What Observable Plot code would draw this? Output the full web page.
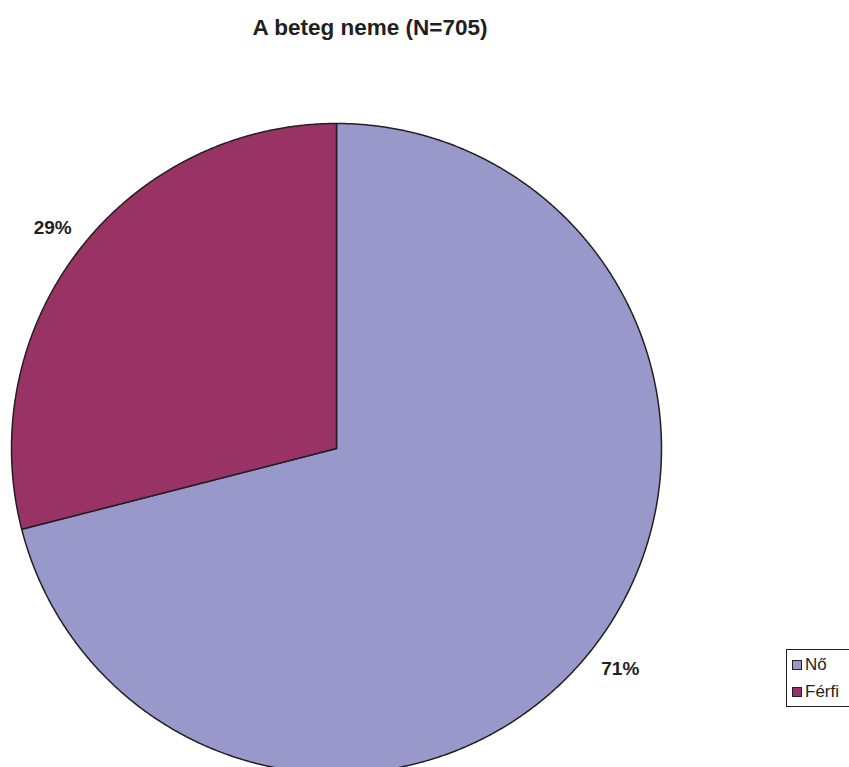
<!DOCTYPE html>
<html>
<head>
<meta charset="utf-8">
<script src="https://cdn.jsdelivr.net/npm/d3@7"></script>
<script src="https://cdn.jsdelivr.net/npm/@observablehq/plot@0.6"></script>
<style>
  html, body { margin: 0; padding: 0; background: #fff; overflow: hidden; }
  #chart { position: relative; width: 849px; height: 767px; overflow: hidden; font-family: Arial, "Liberation Sans", sans-serif; }
  #chart svg { position: absolute; left: 0; top: 0; }
  .title { position: absolute; left: 0; width: 740px; top: 15px; text-align: center; font-size: 22.5px; font-weight: bold; color: #231f20; }
  .legend { position: absolute; left: 786px; top: 649px; width: 80px; height: 58px; border: 1px solid #231f20; box-sizing: border-box; background: #fff; }
  .legend .item { position: absolute; left: 5px; height: 20px; display: flex; align-items: center; font-size: 17px; color: #231f20; }
  .legend .sw { width: 8px; height: 8px; border: 1.5px solid #231f20; margin-right: 3px; }
</style>
</head>
<body>
<div id="chart">
  <div class="title">A beteg neme (N=705)</div>
</div>
<script>
// Gender of patients, percent share of N = 705
const categories = ["Nő", "Férfi"];
const shares = [71, 29];
const colors = ["#9898ca", "#993366"];

const pie = d3.pie().sort(null).value((d, i) => shares[i]);
const arcs = pie(categories);

// Wedge outlines on a unit circle: centre, then points along the arc
const wedgePoints = arcs.flatMap((a) => {
  const n = Math.max(2, Math.ceil((a.endAngle - a.startAngle) / (Math.PI / 720)));
  const pts = [{cat: a.data, x: 0, y: 0}];
  for (let k = 0; k <= n; k++) {
    const t = a.startAngle + (a.endAngle - a.startAngle) * k / n;
    pts.push({cat: a.data, x: Math.sin(t), y: Math.cos(t)});
  }
  return pts;
});

// Percentage labels just outside the rim, at each wedge's mid-angle
const labelRadius = 1.105;
const labelData = arcs.map((a, i) => {
  const m = (a.startAngle + a.endAngle) / 2;
  return {x: labelRadius * Math.sin(m), y: labelRadius * Math.cos(m), text: `${shares[i]}%`};
});

const plot = Plot.plot({
  width: 849,
  height: 767,
  margin: 0,
  x: {domain: [-1, 1], range: [11, 661], axis: null},
  y: {domain: [-1, 1], range: [773, 123], axis: null},
  color: {domain: categories, range: colors},
  marks: [
    Plot.line(wedgePoints, {
      x: "x", y: "y", z: "cat", fill: "cat",
      stroke: "#231f20", strokeWidth: 1.5, strokeLinejoin: "round",
      curve: "linear-closed"
    }),
    Plot.text(labelData, {
      x: "x", y: "y", text: "text",
      fontSize: 19, fontWeight: "bold", fill: "#231f20",
      fontFamily: "Arial, 'Liberation Sans', sans-serif"
    })
  ]
});
const chart = document.getElementById("chart");
chart.insertBefore(plot, chart.firstChild);

// Legend box
const legend = document.createElement("div");
legend.className = "legend";
categories.forEach((c, i) => {
  const item = document.createElement("div");
  item.className = "item";
  item.style.top = (5 + i * 26.5) + "px";
  const sw = document.createElement("span");
  sw.className = "sw";
  sw.style.background = colors[i];
  const label = document.createElement("span");
  label.textContent = c;
  item.appendChild(sw);
  item.appendChild(label);
  legend.appendChild(item);
});
chart.appendChild(legend);
</script>
</body>
</html>
